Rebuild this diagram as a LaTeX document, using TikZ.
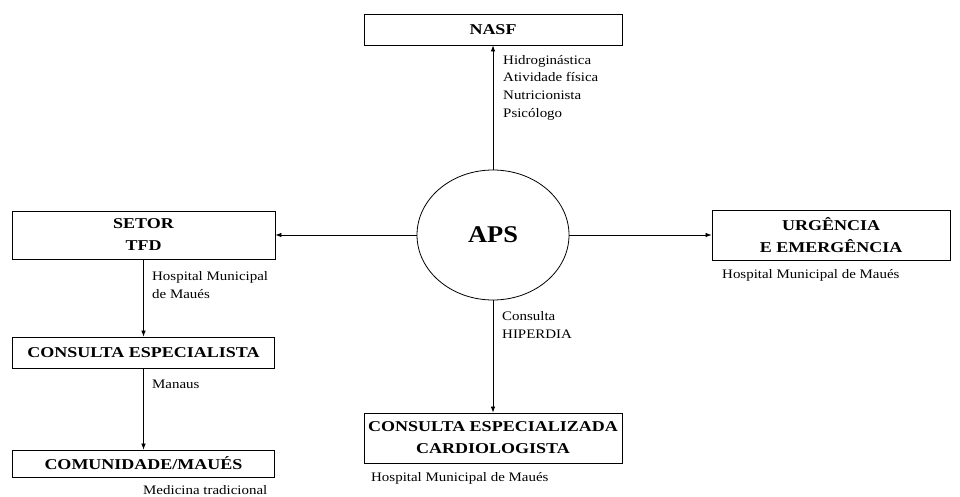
\documentclass[tikz,border=0pt]{standalone}
\usepackage{fontspec}
\setmainfont{Liberation Serif}
\newfontfamily\boxfont[FakeStretch=1.2]{Liberation Serif}
\newfontfamily\labfont[FakeStretch=1.15]{Liberation Serif}
\newfontfamily\apsfont[FakeStretch=1.1]{Liberation Serif}
\usetikzlibrary{arrows.meta,shapes.geometric}
\begin{document}
\begin{tikzpicture}[x=1pt,y=-1pt,
  box/.style={draw,line width=0.8pt,inner sep=0pt,align=center,font=\boxfont\fontsize{15}{22}\selectfont\bfseries},
  lbl/.style={inner sep=0pt,anchor=north west,align=left,font=\labfont\fontsize{13}{17.7}\selectfont},
  arr/.style={line width=0.7pt,-{Latex[length=6pt,width=4.5pt]}}]
\useasboundingbox (0,0) rectangle (960,497);
\node[box,minimum width=258pt,minimum height=31pt] (nasf) at (493,29.5) {NASF};
\node[draw,ellipse,line width=0.8pt,minimum width=152pt,minimum height=130pt,inner sep=0pt,font=\apsfont\fontsize{24}{28}\selectfont\bfseries] (aps) at (493,235) {APS};
\node[box,minimum width=263pt,minimum height=48pt] (setor) at (143.5,235) {SETOR\\TFD};
\node[box,minimum width=262pt,minimum height=31pt] (cesp) at (143.5,352.5) {CONSULTA ESPECIALISTA};
\node[box,minimum width=262pt,minimum height=27pt] (comun) at (143.5,463.5) {COMUNIDADE/MAUÉS};
\node[box,minimum width=258pt,minimum height=50pt] (card) at (493,438) {CONSULTA ESPECIALIZADA\\CARDIOLOGISTA};
\node[box,minimum width=238pt,minimum height=50pt] (urg) at (831,235) {URGÊNCIA\\E EMERGÊNCIA};
\draw[arr] (aps.north) -- (nasf.south);
\draw[arr] (aps.west) -- (setor.east);
\draw[arr] (aps.east) -- (urg.west);
\draw[arr] (aps.south) -- (card.north);
\draw[arr] (setor.south) -- (cesp.north);
\draw[arr] (cesp.south) -- (comun.north);
\node[lbl] (l1) at (503,55) {Hidroginástica\\Atividade física\\Nutricionista\\Psicólogo};
\node[lbl] (l2) at (152,271.5) {Hospital Municipal\\de Maués};
\node[lbl] (l3) at (152,379.5) {Manaus};
\node[lbl] (l4) at (502,311.5) {Consulta\\HIPERDIA};
\node[lbl] (l5) at (371,472.5) {Hospital Municipal de Maués};
\node[lbl] (l6) at (722,269.5) {Hospital Municipal de Maués};
\node[lbl] (l7) at (143,485) {Medicina tradicional};
\end{tikzpicture}
\end{document}
